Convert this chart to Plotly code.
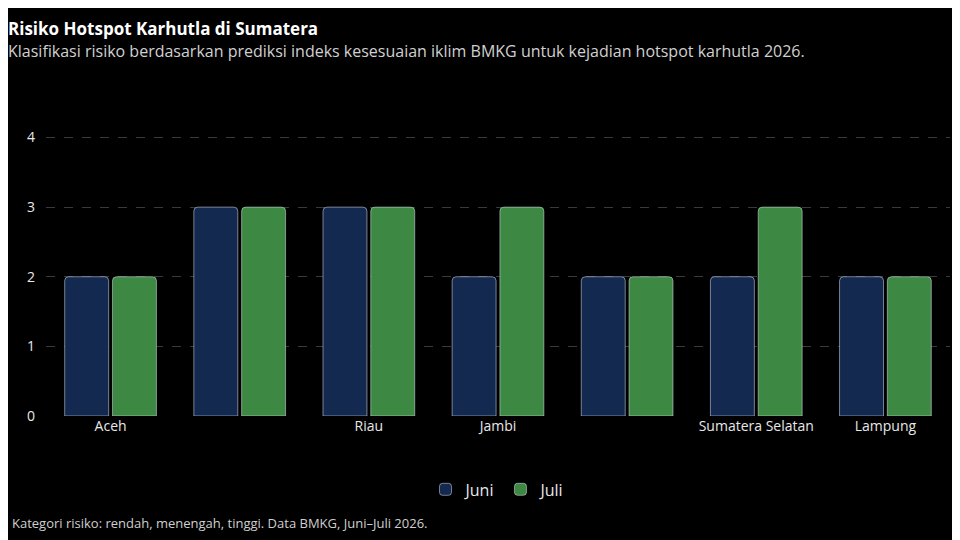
import plotly.graph_objects as go

provinsi = ["Aceh", "Sumatera Utara", "Riau", "Jambi", "Sumatera Barat", "Sumatera Selatan", "Lampung"]
label_tampil = ["Aceh", "", "Riau", "Jambi", "", "Sumatera Selatan", "Lampung"]
juni = [2, 3, 3, 2, 2, 2, 2]
juli = [2, 3, 3, 3, 2, 3, 2]

fig = go.Figure()
fig.add_trace(go.Bar(x=provinsi, y=juni, name="Juni", marker_color="#13294f"))
fig.add_trace(go.Bar(x=provinsi, y=juli, name="Juli", marker_color="#3d8843"))

fig.update_layout(
    width=960, height=540,
    paper_bgcolor="#000000", plot_bgcolor="#000000",
    font=dict(family="Open Sans", color="#e8e8e8", size=14),
    title=dict(text="<b>Risiko Hotspot Karhutla di Sumatera</b><br><span style='font-size:16px;color:#d0d0d0'>Klasifikasi risiko berdasarkan prediksi indeks kesesuaian iklim BMKG untuk kejadian hotspot karhutla 2026.</span>",
               x=0, xanchor="left", y=0.95, yanchor="top", font=dict(size=17, color="#ffffff")),
    margin=dict(l=38, r=18, t=126, b=132),
    barmode="group", bargap=0.26, bargroupgap=0.08, barcornerradius=4,
    legend=dict(orientation="h", x=0.5, xanchor="center", y=-0.2, yanchor="top",
                font=dict(size=16, color="#e8e8e8")),
    showlegend=True,
)
fig.update_xaxes(tickmode="array", tickvals=provinsi, ticktext=label_tampil,
                 showgrid=False, showline=False, ticks="", tickfont=dict(size=14))
fig.update_yaxes(range=[0, 4.05], dtick=1, gridcolor="#3a3a3a", griddash="dash",
                 zeroline=False, tickfont=dict(size=14), ticklabelstandoff=10)
fig.add_annotation(text="Kategori risiko: rendah, menengah, tinggi. Data BMKG, Juni–Juli 2026.",
                   xref="paper", yref="paper", x=-0.04, y=-0.42, xanchor="left", yanchor="bottom",
                   showarrow=False, font=dict(size=13, color="#cfcfcf"))
fig.write_html("out.html")
